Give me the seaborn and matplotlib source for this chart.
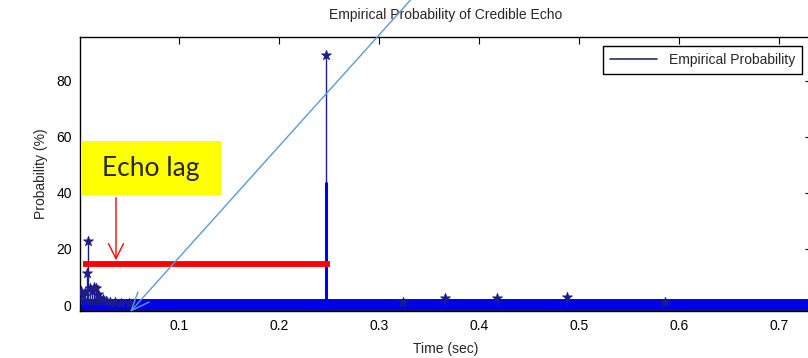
import numpy as np
import pandas as pd
import matplotlib
matplotlib.use("Agg")
import matplotlib.pyplot as plt
from matplotlib.lines import Line2D
import seaborn as sns

# ---- data ----
time_s = [0.002, 0.004, 0.006, 0.008, 0.009, 0.011, 0.013, 0.015, 0.017,
          0.019, 0.021, 0.024, 0.027, 0.031, 0.036, 0.042, 0.050,
          0.2465, 0.324, 0.366, 0.418, 0.488, 0.586]
prob_pct = [5.0, 3.5, 4.5, 11.5, 23.0, 6.0, 5.0, 6.5, 6.0,
            4.0, 2.5, 2.0, 1.5, 1.2, 1.0, 0.8, 0.6,
            89.3, 1.0, 2.5, 2.5, 3.0, 1.0]
# overlapping lower stem under the main peak (no marker visible)
peak_sub_time = [0.2470]
peak_sub_prob = [44.0]
xticks = [0.1, 0.2, 0.3, 0.4, 0.5, 0.6, 0.7]
yticks = [0, 20, 40, 60, 80]
echo_lag_level = 14.6
echo_lag_span = [0.004, 0.251]

df = pd.DataFrame({"Time": time_s, "Prob": prob_pct})

sns.set_theme(style="white")
plt.rcParams["font.family"] = ["Liberation Sans", "DejaVu Sans"]

fig = plt.figure(figsize=(8.08, 3.58), dpi=100)
ax = fig.add_axes([80 / 808, 1 - 311 / 358, 732 / 808, 274 / 358])

navy = "#1c1c8a"
blue = "#0000f0"

# thick band of zero-valued samples (baseline)
ax.axhline(0, color="#10106a", lw=8.6, zorder=2)
ax.axhline(0, color=blue, lw=7.0, zorder=2)

# stems
ax.vlines(df["Time"], 0, df["Prob"], color=navy, lw=1.0, zorder=3)
ax.vlines(peak_sub_time, 0, peak_sub_prob, color=blue, lw=2.2, zorder=3)
sns.scatterplot(data=df, x="Time", y="Prob", marker="*", s=55,
                color=navy, edgecolor=navy, linewidth=0.6, ax=ax, zorder=4,
                legend=False)

ax.set_xlim(0.001, 0.733)
ax.set_ylim(-2.14, 95.7)
ax.set_xticks(xticks)
ax.set_xticklabels([f"{t:g}" for t in xticks])
ax.set_yticks(yticks)
ax.tick_params(direction="in", length=5, width=0.8, top=True, right=True,
               labelsize=10, colors="black", pad=6)
for s in ax.spines.values():
    s.set_color("black")
    s.set_linewidth(1.0)

ax.set_title("Empirical Probability of Credible Echo", fontsize=10, pad=13)
ax.set_xlabel("Time (sec)", fontsize=10, labelpad=6)
ax.set_ylabel("Probability (%)", fontsize=10, labelpad=6)

handle = Line2D([], [], color="#2b2b6b", lw=1.2)
leg = ax.legend([handle], ["Empirical Probability"], loc="upper right",
                bbox_to_anchor=(0.986, 0.967), borderaxespad=0,
                fancybox=False, edgecolor="black", framealpha=1,
                fontsize=10, handlelength=3.4, borderpad=0.5)
leg.get_frame().set_linewidth(1.0)

# ---- annotations ----
ax.plot(echo_lag_span, [echo_lag_level, echo_lag_level], color="#ff0000",
        lw=4.2, solid_capstyle="butt", zorder=5)
ax.add_patch(plt.Rectangle((0.002, 39.3), 0.140, 19.3, facecolor="#ffff00",
                           edgecolor="none", zorder=5, clip_on=False))
ax.text(0.072, 48.8, "Echo lag", fontsize=19, family=["Lato", "DejaVu Sans"],
        ha="center", va="center", zorder=6)
ax.annotate("", xy=(0.037, echo_lag_level + 0.4), xytext=(0.037, 39.3),
            arrowprops=dict(arrowstyle="->,head_length=0.9,head_width=0.45",
                            color="#ff0000", lw=1.0), zorder=6)
ax.annotate("", xy=(0.051, -2.5), xytext=(0.336, 110.7),
            arrowprops=dict(arrowstyle="->,head_length=1.1,head_width=0.45",
                            color="#5b9bd5", lw=1.0, shrinkA=0, shrinkB=0),
            annotation_clip=False, zorder=7)

fig.savefig("out.png", dpi=100)
